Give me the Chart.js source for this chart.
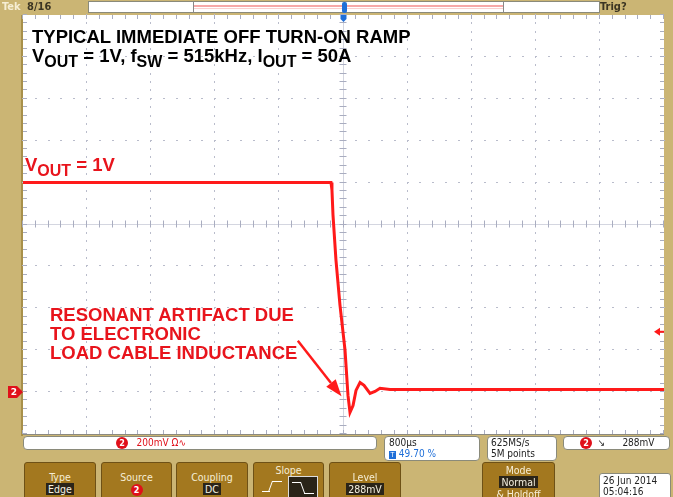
<!DOCTYPE html>
<html><head><meta charset="utf-8">
<script src="https://cdn.jsdelivr.net/npm/chart.js@4/dist/chart.umd.min.js"></script>
<style>
html,body{margin:0;padding:0;}
body{width:673px;height:497px;background:#cbb574;position:relative;overflow:hidden;font-family:"Liberation Sans",Arial,sans-serif;}
#c{position:absolute;left:0;top:0;z-index:1;}
.ov{position:absolute;white-space:nowrap;z-index:2;}
.big{font-weight:bold;font-size:18.5px;line-height:19px;}
.sub{font-size:16px;position:relative;top:5px;}
.ui{font-family:"DejaVu Sans Condensed","DejaVu Sans",sans-serif;font-size:10px;line-height:11px;}
.box{position:absolute;background:#fff;border:1px solid #8a8a7a;border-radius:4px;z-index:2;box-sizing:border-box;}
.btn{position:absolute;top:462px;height:40px;background:#a3781f;border:1px solid #6e5116;border-radius:3px;box-sizing:border-box;z-index:2;color:#f6eed6;text-align:center;font-family:"DejaVu Sans Condensed","DejaVu Sans",sans-serif;font-size:10.5px;line-height:12px;}
.val{display:inline-block;background:#2a2418;color:#f4f0e0;padding:0 2px;}
.dot{display:inline-block;width:12px;height:12px;border-radius:6px;background:#e0101a;color:#fff;font-weight:bold;font-size:9px;line-height:12px;text-align:center;vertical-align:middle;}
</style></head>
<body>
<canvas id="c" width="673" height="497"></canvas>

<!-- top status bar -->
<div class="ov ui" style="left:2px;top:1px;font-weight:bold;font-size:11px;color:#f6eed4;">Tek</div>
<div class="ov ui" style="left:27px;top:1px;font-weight:bold;font-size:11px;color:#3b3422;">8/16</div>
<div class="box" style="left:88px;top:1px;width:512px;height:12px;border-radius:0;"></div>
<div class="ov" style="left:193px;top:1px;width:311px;height:12px;border-left:1px solid #888;border-right:1px solid #888;box-sizing:border-box;"></div>
<div class="ov" style="left:194px;top:5px;width:309px;height:2px;background:#f6a8a8;"></div>
<div class="ov" style="left:194px;top:8px;width:309px;height:1px;background:#fbd0d0;"></div>
<div class="ov" style="left:342px;top:2px;width:5px;height:11px;background:#1f6fd8;border-radius:2px;"></div>
<div class="ov ui" style="left:600px;top:1px;font-weight:bold;font-size:11px;color:#3b3422;">Trig?</div>

<!-- annotations -->
<div class="ov big" style="left:32px;top:27px;color:#000;">TYPICAL IMMEDIATE OFF TURN-ON RAMP</div>
<div class="ov big" style="left:32px;top:46px;color:#000;">V<span class="sub">OUT</span> = 1V, f<span class="sub">SW</span> = 515kHz, I<span class="sub">OUT</span> = 50A</div>
<div class="ov big" style="left:25px;top:155px;color:#e8141c;">V<span class="sub">OUT</span> = 1V</div>
<div class="ov big" style="left:50px;top:305px;color:#e8141c;">RESONANT ARTIFACT DUE<br>TO ELECTRONIC<br>LOAD CABLE INDUCTANCE</div>

<!-- bottom info boxes -->
<div class="box" style="left:23px;top:436px;width:354px;height:14px;"></div>
<div class="ov ui" style="left:116px;top:437px;color:#e0101a;"><span class="dot">2</span>&nbsp;&nbsp;&nbsp;200mV Ω∿</div>
<div class="box" style="left:384px;top:436px;width:96px;height:25px;"></div>
<div class="ov ui" style="left:389px;top:437px;color:#222;">800µs<br><span style="color:#1f6fd8;"><span style="display:inline-block;background:#1f6fd8;color:#fff;width:7px;height:8px;line-height:8px;font-size:7px;text-align:center;">T</span> 49.70 %</span></div>
<div class="box" style="left:487px;top:436px;width:70px;height:25px;"></div>
<div class="ov ui" style="left:491px;top:437px;color:#222;">625MS/s<br>5M points</div>
<div class="box" style="left:563px;top:436px;width:107px;height:14px;"></div>
<div class="ov ui" style="left:580px;top:437px;color:#222;"><span class="dot">2</span>&nbsp;&nbsp;↘&nbsp;&nbsp;&nbsp;&nbsp;&nbsp;&nbsp;288mV</div>

<!-- bottom buttons -->
<div class="btn" style="left:24px;width:72px;padding-top:8px;">Type<br><span class="val">Edge</span></div>
<div class="btn" style="left:101px;width:71px;padding-top:8px;">Source<br><span class="dot">2</span></div>
<div class="btn" style="left:176px;width:72px;padding-top:8px;">Coupling<br><span class="val">DC</span></div>
<div class="btn" style="left:253px;width:71px;padding-top:1px;">Slope<br>
  <span style="display:inline-block;width:28px;height:20px;position:relative;vertical-align:top;">
    <span style="position:absolute;left:2px;top:15px;width:8px;height:1px;background:#fff;"></span>
    <span style="position:absolute;left:10px;top:5px;width:1px;height:11px;background:#fff;transform:skewX(-20deg);"></span>
    <span style="position:absolute;left:12px;top:5px;width:10px;height:1px;background:#fff;"></span>
  </span><span style="display:inline-block;width:30px;height:22px;background:#2a2418;border:1px solid #ddd;position:relative;vertical-align:top;box-sizing:border-box;">
    <span style="position:absolute;left:3px;top:5px;width:9px;height:1px;background:#fff;"></span>
    <span style="position:absolute;left:13px;top:5px;width:1px;height:11px;background:#fff;transform:skewX(20deg);"></span>
    <span style="position:absolute;left:15px;top:16px;width:10px;height:1px;background:#fff;"></span>
  </span></div>
<div class="btn" style="left:329px;width:72px;padding-top:8px;">Level<br><span class="val">288mV</span></div>
<div class="btn" style="left:482px;width:73px;padding-top:1px;">Mode<br><span class="val">Normal</span><br>&amp; Holdoff</div>
<div class="box" style="left:599px;top:473px;width:72px;height:30px;border-radius:3px;"></div>
<div class="ov ui" style="left:603px;top:475px;color:#222;line-height:11px;">26 Jun 2014<br>05:04:16</div>

<script>
// ---- data (time in ms, voltage in V, 800 µs/div, 200 mV/div) ----
const timeMs = [-4.0, -0.156, -0.144, -0.131, -0.094, -0.044, 0.019, 0.056, 0.081, 0.119, 0.156, 0.206, 0.256, 0.331, 0.393, 0.456, 0.581, 4.0];
const voutV  = [1.0, 1.0, 0.965, 0.845, 0.63, 0.415, 0.20, -0.016, -0.097, -0.064, 0.008, 0.046, 0.032, -0.006, 0.003, 0.018, 0.013, 0.013];
// graticule divisions
const xDivs = [-4.0, -3.2, -2.4, -1.6, -0.8, 0.0, 0.8, 1.6, 2.4, 3.2, 4.0];
const yDivs = [-0.2, 0.0, 0.2, 0.4, 0.6, 0.8, 1.0, 1.2, 1.4, 1.6, 1.8];
const xCenter = 0.0, yCenter = 0.8;
const groundLevel = 0.0, triggerLevel = 0.288, triggerTime = 0.0;
const arrowTail = [-0.57, 0.245], arrowTip = [-0.025, -0.02];

const grid = {
  id: 'scopeGrid',
  beforeDraw(chart) {
    const {ctx, chartArea: a} = chart;
    ctx.save();
    ctx.fillStyle = '#ffffff';
    ctx.fillRect(a.left, a.top, a.right - a.left, a.bottom - a.top);
    ctx.fillStyle = '#a8904a';
    ctx.fillRect(a.left - 2, a.top, 2, a.bottom - a.top + 2);
    ctx.restore();
  },
  beforeDatasetsDraw(chart) {
    const {ctx, chartArea: a, scales: {x, y}} = chart;
    const xs = xDivs.map(v => x.getPixelForValue(v));
    const ys = yDivs.map(v => y.getPixelForValue(v));
    const xm = [], ym = [];
    for (let i = 0; i < xs.length - 1; i++) for (let k = 0; k < 5; k++) xm.push(xs[i] + (xs[i + 1] - xs[i]) * k / 5);
    xm.push(xs[xs.length - 1]);
    for (let i = 0; i < ys.length - 1; i++) for (let k = 0; k < 5; k++) ym.push(ys[i] + (ys[i + 1] - ys[i]) * k / 5);
    ym.push(ys[ys.length - 1]);
    const cx = x.getPixelForValue(xCenter), cy = y.getPixelForValue(yCenter);
    ctx.save();
    ctx.fillStyle = '#b9bccb';
    xs.forEach(px => { if (Math.abs(px - cx) < 1 || px <= a.left + 1 || px >= a.right - 1) return;
      ym.forEach(py => ctx.fillRect(Math.round(px) - 1, Math.round(py) - 1, 1, 2)); });
    ys.forEach(py => { if (Math.abs(py - cy) < 1 || py <= a.top + 1 || py >= a.bottom - 1) return;
      xm.forEach(px => ctx.fillRect(Math.round(px) - 1, Math.round(py) - 1, 2, 1)); });
    ctx.strokeStyle = '#d4d6e0'; ctx.lineWidth = 1;
    ctx.beginPath();
    ctx.moveTo(Math.round(cx) - 0.5, a.top); ctx.lineTo(Math.round(cx) - 0.5, a.bottom);
    ctx.moveTo(a.left, Math.round(cy) - 0.5); ctx.lineTo(a.right, Math.round(cy) - 0.5);
    ctx.stroke();
    ctx.strokeStyle = '#a9adc0';
    ctx.beginPath();
    ym.forEach(py => { const yy = Math.round(py) - 0.5; ctx.moveTo(cx - 4, yy); ctx.lineTo(cx + 3, yy);
      ctx.moveTo(a.left, yy); ctx.lineTo(a.left + 4, yy); ctx.moveTo(a.right - 4, yy); ctx.lineTo(a.right, yy); });
    xm.forEach(px => { const xx = Math.round(px) - 0.5; ctx.moveTo(xx, cy - 4); ctx.lineTo(xx, cy + 3);
      ctx.moveTo(xx, a.top); ctx.lineTo(xx, a.top + 4); ctx.moveTo(xx, a.bottom - 4); ctx.lineTo(xx, a.bottom); });
    ctx.stroke();
    ctx.restore();
  },
  afterDatasetsDraw(chart) {
    const {ctx, chartArea: a, scales: {x, y}} = chart;
    ctx.save();
    const x0 = x.getPixelForValue(arrowTail[0]), y0 = y.getPixelForValue(arrowTail[1]);
    const x1 = x.getPixelForValue(arrowTip[0]), y1 = y.getPixelForValue(arrowTip[1]);
    const ang = Math.atan2(y1 - y0, x1 - x0), L = 17, W = 6;
    const bx = x1 - L * Math.cos(ang), by = y1 - L * Math.sin(ang);
    ctx.strokeStyle = '#ff1a1a'; ctx.fillStyle = '#ff1a1a'; ctx.lineWidth = 2.5;
    ctx.beginPath(); ctx.moveTo(x0, y0); ctx.lineTo(bx, by); ctx.stroke();
    ctx.beginPath(); ctx.moveTo(x1, y1);
    ctx.lineTo(bx + W * Math.sin(ang), by - W * Math.cos(ang));
    ctx.lineTo(bx - W * Math.sin(ang), by + W * Math.cos(ang));
    ctx.closePath(); ctx.fill();
    const ty = y.getPixelForValue(triggerLevel);
    ctx.beginPath(); ctx.moveTo(a.right - 10, ty); ctx.lineTo(a.right - 4, ty - 4); ctx.lineTo(a.right - 4, ty + 4); ctx.closePath(); ctx.fill();
    ctx.fillRect(a.right - 5, ty - 1, 5, 2);
    const gy = y.getPixelForValue(groundLevel);
    ctx.fillStyle = '#e0101a';
    ctx.beginPath(); ctx.moveTo(a.left - 15, gy - 6); ctx.lineTo(a.left - 6, gy - 6); ctx.lineTo(a.left, gy);
    ctx.lineTo(a.left - 6, gy + 6); ctx.lineTo(a.left - 15, gy + 6); ctx.closePath(); ctx.fill();
    ctx.fillStyle = '#fff'; ctx.font = 'bold 9px "DejaVu Sans"'; ctx.textAlign = 'center'; ctx.textBaseline = 'middle';
    ctx.fillText('2', a.left - 9, gy + 0.5);
    const tx = x.getPixelForValue(triggerTime);
    ctx.fillStyle = '#1f6fd8';
    ctx.beginPath(); ctx.moveTo(tx - 3, a.top); ctx.lineTo(tx + 3, a.top); ctx.lineTo(tx + 3, a.top + 4); ctx.lineTo(tx, a.top + 7); ctx.lineTo(tx - 3, a.top + 4); ctx.closePath(); ctx.fill();
    ctx.fillStyle = '#8c8a80';
    ctx.fillRect(a.left, a.bottom, a.right - a.left, 1);
    ctx.restore();
  }
};

new Chart(document.getElementById('c'), {
  type: 'line',
  data: {
    datasets: [{
      label: 'VOUT',
      data: timeMs.map((t, i) => ({x: t, y: voutV[i]})),
      borderColor: '#ff1a1a',
      borderWidth: 3,
      pointRadius: 0,
      tension: 0,
      fill: false
    }]
  },
  options: {
    responsive: false,
    animation: false,
    events: [],
    layout: {padding: {left: 23, top: 15, right: 9, bottom: 63}},
    plugins: {legend: {display: false}, tooltip: {enabled: false}},
    scales: {
      x: {type: 'linear', display: false, min: xDivs[0], max: xDivs[xDivs.length - 1]},
      y: {type: 'linear', display: false, min: yDivs[0], max: yDivs[yDivs.length - 1]}
    }
  },
  plugins: [grid]
});
</script>
</body></html>
